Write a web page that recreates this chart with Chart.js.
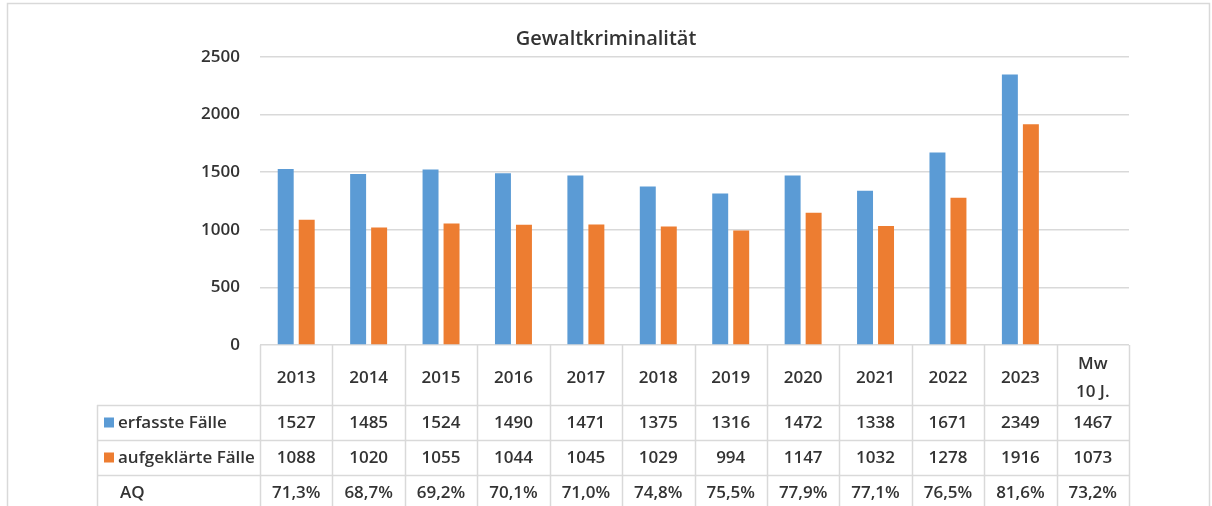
<!DOCTYPE html>
<html><head><meta charset="utf-8">
<script src="https://cdn.jsdelivr.net/npm/chart.js@4/dist/chart.umd.min.js"></script>
<style>html,body{margin:0;padding:0;background:#fff;}canvas{display:block}</style>
</head><body>
<canvas id="c" width="1212" height="506"></canvas>
<script>
const categories = ['2013','2014','2015','2016','2017','2018','2019','2020','2021','2022','2023',['Mw','10 J.']];
const erfassteFaelle = [1527,1485,1524,1490,1471,1375,1316,1472,1338,1671,2349];
const aufgeklaerteFaelle = [1088,1020,1055,1044,1045,1029,994,1147,1032,1278,1916];
const mittelErfasst = 1467;
const mittelAufgeklaert = 1073;
const aq = ['71,3%','68,7%','69,2%','70,1%','71,0%','74,8%','75,5%','77,9%','77,1%','76,5%','81,6%','73,2%'];
const yTicks = [0,500,1000,1500,2000,2500];

const BLUE = '#5B9BD5', ORANGE = '#ED7D31', GRID = '#D9D9D9', TEXT = '#333333';
const FONT = "'Open Sans', sans-serif";
const FS = 17;

const tablePlugin = {
  id: 'dataTable',
  beforeDraw(chart) {
    const ctx = chart.ctx;
    ctx.save();
    ctx.strokeStyle = GRID; ctx.lineWidth = 1.5;
    ctx.strokeRect(7.5, 3.5, 1202, 540);
    ctx.restore();
  },
  afterDraw(chart) {
    const {ctx, chartArea} = chart;
    const n = categories.length;
    const left = chartArea.left, right = chartArea.right;
    const colW = (right - left) / n;
    const top = chartArea.bottom;
    const hdrB = top + 60, r1B = hdrB + 35, r2B = r1B + 35, r3B = r2B + 35;
    const tblLeft = 97;
    ctx.save();
    ctx.strokeStyle = GRID; ctx.lineWidth = 1.5;
    ctx.beginPath();
    for (let i = 0; i <= n; i++) {
      const xx = Math.round(left + i * colW) + 0.5;
      ctx.moveTo(xx, top); ctx.lineTo(xx, 520);
    }
    ctx.moveTo(tblLeft + 0.5, hdrB); ctx.lineTo(tblLeft + 0.5, 520);
    [hdrB, r1B, r2B].forEach(y => { ctx.moveTo(tblLeft, y + 0.5); ctx.lineTo(right, y + 0.5); });
    ctx.stroke();

    const rows = [
      erfassteFaelle.map(String).concat([String(mittelErfasst)]),
      aufgeklaerteFaelle.map(String).concat([String(mittelAufgeklaert)]),
      aq
    ];
    const rowY = [(hdrB + r1B) / 2, (r1B + r2B) / 2, (r2B + r3B) / 2];
    ctx.fillStyle = TEXT;
    ctx.font = "600 " + FS + "px " + FONT;
    ctx.textAlign = 'center'; ctx.textBaseline = 'middle';
    rows.forEach((r, ri) => r.forEach((v, i) => ctx.fillText(v, left + (i + 0.5) * colW, rowY[ri] + 1)));

    const labels = [chart.data.datasets[0].label, chart.data.datasets[1].label, 'AQ'];
    const cols = [BLUE, ORANGE, null];
    ctx.textAlign = 'left';
    labels.forEach((l, ri) => {
      if (cols[ri]) {
        ctx.fillStyle = cols[ri];
        ctx.fillRect(104, rowY[ri] - 5, 10, 10);
        ctx.fillStyle = TEXT;
        ctx.fillText(l, 118, rowY[ri] + 1);
      } else {
        ctx.fillStyle = TEXT;
        ctx.fillText(l, 120, rowY[ri] + 1);
      }
    });
    ctx.restore();
  }
};

new Chart(document.getElementById('c'), {
  type: 'bar',
  data: {
    labels: categories,
    datasets: [
      { label: 'erfasste Fälle', data: erfassteFaelle, backgroundColor: BLUE, categoryPercentage: 0.58, barPercentage: 0.76 },
      { label: 'aufgeklärte Fälle', data: aufgeklaerteFaelle, backgroundColor: ORANGE, categoryPercentage: 0.58, barPercentage: 0.76 }
    ]
  },
  options: {
    responsive: false,
    animation: false,
    layout: { padding: { left: 0, right: 0, top: 0, bottom: 0 } },
    plugins: {
      legend: { display: false },
      tooltip: { enabled: false },
      title: {
        display: true, text: 'Gewaltkriminalität', color: TEXT,
        font: { family: FONT, size: 20, weight: '600' },
        padding: { top: 27, bottom: 6 }
      }
    },
    scales: {
      x: {
        grid: { display: false, drawTicks: false },
        border: { display: false },
        ticks: { color: TEXT, font: { family: FONT, size: FS, weight: '600', lineHeight: '28px' }, padding: 19, crossAlign: 'center', maxRotation: 0, autoSkip: false },
        afterFit(s) { s.height = 161; }
      },
      y: {
        min: 0, max: 2500,
        afterBuildTicks(s) { s.ticks = yTicks.map(v => ({ value: v })); },
        grid: { color: GRID, lineWidth: 1.5, drawTicks: false },
        border: { display: false },
        ticks: { color: TEXT, font: { family: FONT, size: FS, weight: '600' }, padding: 20, callback: v => String(v) },
        afterFit(s) { s.width = 260; }
      },
      yRight: {
        position: 'right', display: true,
        grid: { display: false, drawTicks: false },
        border: { display: false },
        ticks: { display: false },
        afterFit(s) { s.width = 83; }
      }
    }
  },
  plugins: [tablePlugin]
});
</script>
</body></html>
